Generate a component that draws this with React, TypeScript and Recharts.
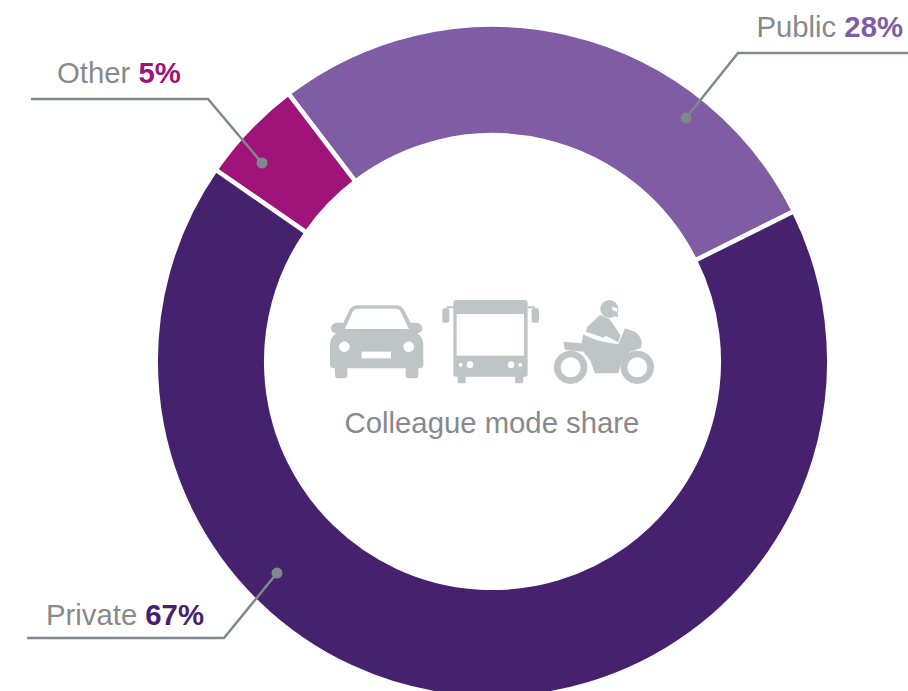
import { Pie, PieChart, Cell } from 'recharts';

const MODES = ['Public', 'Other', 'Private'];
const SHARES = [28, 5, 67];
const COLORS = ['#7f5ca3', '#a0147a', '#46216e'];
const CENTER_TITLE = 'Colleague mode share';

const FONT = '"Liberation Sans", Arial, sans-serif';
const GREY_TEXT = '#87898c';
const GREY_LINE = '#7f888c';
const ICON = '#bfc5c7';

const chartData = MODES.map((name, i) => ({ name, value: SHARES[i] }));

// leader lines and text anchors for each label, same order as MODES
const LEADERS = [
  { points: '686,118 738,53 908,53', dot: [686, 118], x: 903, y: 37, anchor: 'end' },
  { points: '262,163 208,99 31,99', dot: [262, 163], x: 57, y: 83, anchor: 'start' },
  { points: '277,573 224,638 27,638', dot: [277, 573], x: 46, y: 625, anchor: 'start' },
];

function renderLabel({ index }: { index: number }) {
  const l = LEADERS[index];
  return (
    <g key={MODES[index]}>
      <polyline points={l.points} fill="none" stroke={GREY_LINE} strokeWidth={2.5} />
      <circle cx={l.dot[0]} cy={l.dot[1]} r={5.5} fill={GREY_LINE} />
      <text x={l.x} y={l.y} textAnchor={l.anchor} fontFamily={FONT} fontSize={29.3} fill={GREY_TEXT}>
        {MODES[index]}{' '}
        <tspan fontWeight="bold" fill={COLORS[index]}>{SHARES[index]}%</tspan>
      </text>
    </g>
  );
}

function Icons() {
  return (
    <g fill={ICON}>
      <g transform="translate(310 280) scale(0.3333)">
        {/* car */}
        <path d="M100 128 L118 90 Q125 76 145 76 L255 76 Q275 76 282 90 L302 128 L320 128 Q337 132 337 145 Q337 158 322 160 Q340 175 340 195 L340 255 Q340 265 325 265 L325 285 Q325 295 315 295 L297 295 Q287 295 287 285 L287 265 L112 265 L112 285 Q112 295 102 295 L85 295 Q75 295 75 285 L75 265 Q60 265 60 255 L60 195 Q60 175 78 160 Q63 158 63 145 Q63 132 80 128 Z" />
        <path d="M105 147 L128 95 Q132 86 145 86 L255 86 Q268 86 272 95 L297 147 Z" fill="#fff" />
        <circle cx={103} cy={200} r={16} fill="#fff" />
        <circle cx={296} cy={200} r={16} fill="#fff" />
        <rect x={155} y={215} width={88} height={20} fill="#fff" />
        {/* bus */}
        <rect x={430} y={60} width={223} height={230} rx={8} />
        <rect x={440} y={102} width={202} height={125} fill="#fff" />
        <rect x={443} y={285} width={24} height={25} rx={4} />
        <rect x={615} y={285} width={25} height={25} rx={4} />
        <rect x={397} y={85} width={21} height={43} rx={6} />
        <rect x={665} y={85} width={22} height={43} rx={6} />
        <path d="M410 85 L410 79 L432 79 L432 85 Z M652 79 L675 79 L675 85 L652 85 Z" />
        <circle cx={452} cy={254} r={6} fill="#fff" />
        <circle cx={480} cy={254} r={10} fill="#fff" />
        <circle cx={603} cy={254} r={10} fill="#fff" />
        <circle cx={631} cy={254} r={6} fill="#fff" />
      </g>
      <g transform="translate(550 295) scale(0.3333)">
        {/* motorcycle */}
        <circle cx={62} cy={217} r={40} fill="none" stroke={ICON} strokeWidth={20} />
        <circle cx={262} cy={217} r={40} fill="none" stroke={ICON} strokeWidth={20} />
        <circle cx={178} cy={42} r={27} />
        <path d="M180 60 L203 48 L204 67 Z" />
        <path d="M185 36 L203 40 L201 50 L189 47 Z" fill="#fff" />
        <path d="M150 60 L178 72 L195 95 L212 122 L204 142 L168 122 L160 128 L108 110 L112 95 Z" />
        <path d="M40 140 L95 145 L100 118 Q130 135 160 140 L205 148 L225 100 L255 110 Q275 125 275 145 L272 160 L240 170 L215 200 L205 235 L135 235 L120 195 L100 170 L45 165 Z" />
      </g>
    </g>
  );
}

export default function App() {
  return (
    <div style={{ position: 'fixed', left: 0, top: 0, width: 908, height: 691, overflow: 'hidden', background: '#fff' }}>
      <PieChart width={908} height={691} margin={{ top: 0, right: 0, bottom: 0, left: 0 }}>
        <Pie
          data={chartData}
          dataKey="value"
          nameKey="name"
          cx={492.5}
          cy={361.5}
          innerRadius={226.3}
          outerRadius={336.8}
          startAngle={26.5}
          endAngle={386.5}
          stroke="#fff"
          strokeWidth={4.5}
          label={renderLabel}
          labelLine={false}
          isAnimationActive={false}
        >
          {chartData.map((d, i) => (
            <Cell key={d.name} fill={COLORS[i]} />
          ))}
        </Pie>
        <Icons />
        <text x={492} y={433} textAnchor="middle" fontFamily={FONT} fontSize={29.3} fill={GREY_TEXT}>
          {CENTER_TITLE}
        </text>
      </PieChart>
    </div>
  );
}
